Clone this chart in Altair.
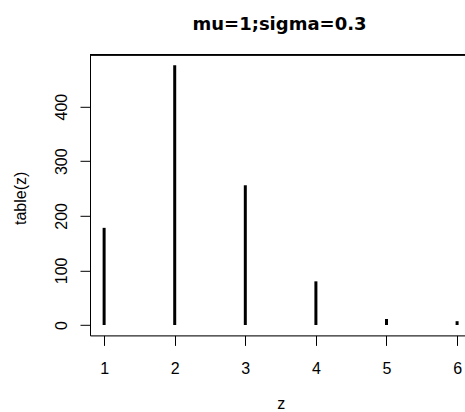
import altair as alt
import pandas as pd

# Frequency table of z
z_values = [1, 2, 3, 4, 5, 6]
counts = [178, 476, 256, 80, 11, 7]

x_ticks = [1, 2, 3, 4, 5, 6]
y_ticks = [0, 100, 200, 300, 400]

df = pd.DataFrame({"z": z_values, "n": counts})

W, H = 375, 280.6
FONT = "Liberation Sans"

x_scale = alt.Scale(domain=[0.8, 6.112], nice=False, zero=False)
y_scale = alt.Scale(domain=[-19.04, 495.04], nice=False, zero=False)

spikes = alt.Chart(df).mark_rule(color="black", strokeWidth=3, strokeCap="butt").encode(
    x=alt.X(
        "z:Q",
        scale=x_scale,
        title="z",
        axis=alt.Axis(
            values=x_ticks,
            format="d",
            grid=False,
            tickSize=10,
            tickColor="black",
            domainColor="black",
            labelFont=FONT,
            labelFontSize=16,
            labelColor="black",
            labelBaseline="alphabetic",
            labelPadding=28,
            labelFlush=False,
            titleFont=FONT,
            titleFontSize=16,
            titleFontWeight="normal",
            titleColor="black",
            titleX=190.7,
            titleY=73,
            titleAlign="center",
            titleBaseline="alphabetic",
        ),
    ),
    y=alt.Y(
        "n:Q",
        scale=y_scale,
        title="table(z)",
        axis=alt.Axis(
            values=y_ticks,
            grid=False,
            tickSize=10,
            tickColor="black",
            domainColor="black",
            labelFont=FONT,
            labelFontSize=16,
            labelColor="black",
            labelAngle=-90,
            labelAlign="center",
            labelBaseline="alphabetic",
            labelPadding=13.3,
            labelFlush=False,
            titleFont=FONT,
            titleFontSize=16,
            titleFontWeight="normal",
            titleColor="black",
            titleAngle=-90,
            titleX=-65,
            titleY=143,
            titleAlign="center",
            titleBaseline="alphabetic",
        ),
    ),
    y2=alt.Y2(datum=0),
)

# Top edge of the plot frame
top_edge = alt.Chart(df).mark_rule(color="black", strokeWidth=1).encode(
    x=alt.value(0), x2=alt.value(W), y=alt.value(0)
)

chart = (
    alt.layer(spikes, top_edge)
    .properties(
        width=W,
        height=H,
        autosize=alt.AutoSizeParams(type="none"),
        padding={"left": 90, "top": 54.8, "right": 0, "bottom": 76.6},
        title=alt.TitleParams(
            "mu=1;sigma=0.3",
            font="DejaVu Sans",
            fontSize=18,
            fontWeight="bold",
            color="black",
            anchor="middle",
            baseline="alphabetic",
            offset=6.5,
            dx=2,
        ),
    )
    .configure_view(strokeWidth=0)
    .configure(background="white")
)

chart.save("out.html", embed_options={"renderer": "svg", "actions": False})
